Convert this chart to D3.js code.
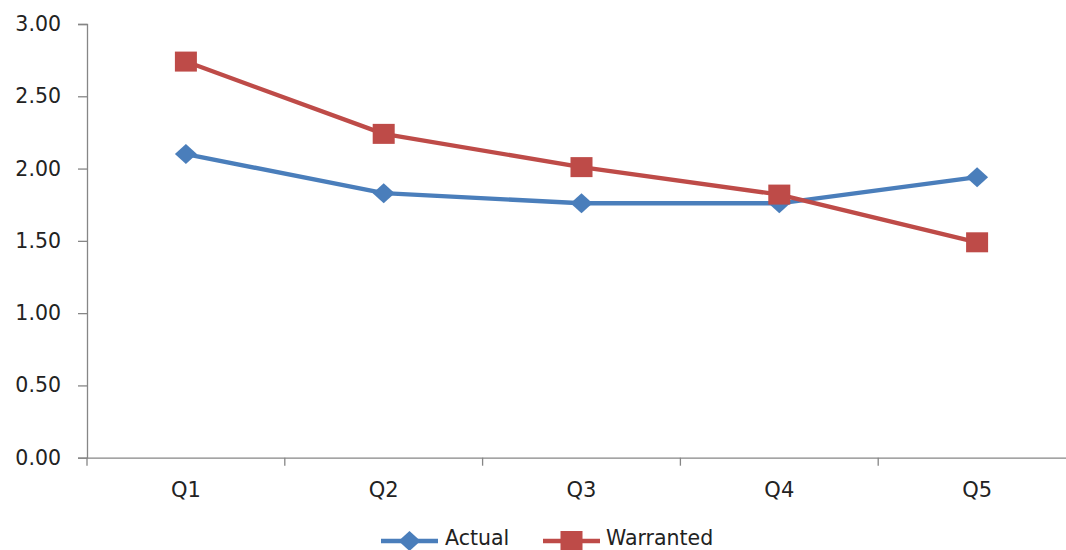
<!DOCTYPE html>
<html><head><meta charset="utf-8">
<script src="https://cdn.jsdelivr.net/npm/d3@7"></script>
<style>body{margin:0;background:#fff}svg{display:block}</style>
</head><body><svg id="c" width="1066" height="550"></svg>
<script>
const categories = ["Q1","Q2","Q3","Q4","Q5"];
const actual = [2.10, 1.83, 1.76, 1.76, 1.94];
const warranted = [2.74, 2.24, 2.01, 1.82, 1.49];
const yTicks = [0, 0.5, 1, 1.5, 2, 2.5, 3];
const seriesNames = ["Actual","Warranted"];

(function(){
const svg = d3.select("#c");
const pLeft = 87, pRight = 1076, pTop = 24, pBottom = 457.7;
const x = d3.scaleBand().domain(categories).range([pLeft, pRight]);
const y = d3.scaleLinear().domain([0, 3]).range([pBottom, pTop]);
const axisColor = "#868686";
const font = "DejaVu Sans, sans-serif";

// y axis
const ya = svg.append("g").attr("transform", `translate(${pLeft},0)`)
  .call(d3.axisLeft(y).tickValues(yTicks).tickFormat(d3.format(".2f")).tickSize(9).tickPadding(17));
ya.select(".domain").attr("stroke", axisColor).attr("stroke-width", 1.3);
ya.selectAll(".tick line").attr("stroke", axisColor).attr("stroke-width", 1.3);
ya.selectAll("text").attr("font-family", font).attr("font-size", 20.5).attr("fill", "#222");

// x axis
const xa = svg.append("g").attr("transform", `translate(0,${pBottom})`)
  .call(d3.axisBottom(x).tickSize(0).tickPadding(24));
xa.select(".domain").attr("stroke", axisColor).attr("stroke-width", 1.3);
xa.selectAll("text").attr("font-family", font).attr("font-size", 21).attr("fill", "#222");
const bounds = categories.map(c => x(c)).concat([x.range()[1]]);
svg.append("g").selectAll("line").data(bounds).join("line")
  .attr("x1", d => d).attr("x2", d => d).attr("y1", pBottom).attr("y2", pBottom + 8)
  .attr("stroke", axisColor).attr("stroke-width", 1.3);

const cx = c => x(c) + x.bandwidth() / 2;
const series = [
  {name: seriesNames[0], values: actual, color: "#4a7ebb", marker: "diamond"},
  {name: seriesNames[1], values: warranted, color: "#be4b48", marker: "square"}
];
const line = d3.line().x((d, i) => cx(categories[i])).y(d => y(d));

function drawMarker(g, type, px, py, color) {
  if (type === "diamond") {
    g.append("path").attr("d", `M${px-11},${py}L${px},${py-10}L${px+11},${py}L${px},${py+10}Z`).attr("fill", color);
  } else {
    g.append("rect").attr("x", px - 11).attr("y", py - 10).attr("width", 22).attr("height", 20).attr("fill", color);
  }
}

series.forEach(s => {
  const g = svg.append("g");
  g.append("path").datum(s.values).attr("d", line).attr("fill", "none")
    .attr("stroke", s.color).attr("stroke-width", 4.3).attr("stroke-linejoin", "round");
  s.values.forEach((v, i) => drawMarker(g, s.marker, cx(categories[i]), y(v), s.color));
});

// legend
const legendItems = [
  {s: series[0], lx: 381, tx: 445},
  {s: series[1], lx: 543, tx: 606}
];
const ly = 541;
legendItems.forEach(it => {
  const g = svg.append("g");
  g.append("line").attr("x1", it.lx).attr("x2", it.lx + 57).attr("y1", ly).attr("y2", ly)
    .attr("stroke", it.s.color).attr("stroke-width", 4.3);
  drawMarker(g, it.s.marker, it.lx + 28.5, ly, it.s.color);
  g.append("text").attr("x", it.tx).attr("y", 545).text(it.s.name)
    .attr("font-family", font).attr("font-size", 20.5).attr("fill", "#222");
});
})();
</script></body></html>
